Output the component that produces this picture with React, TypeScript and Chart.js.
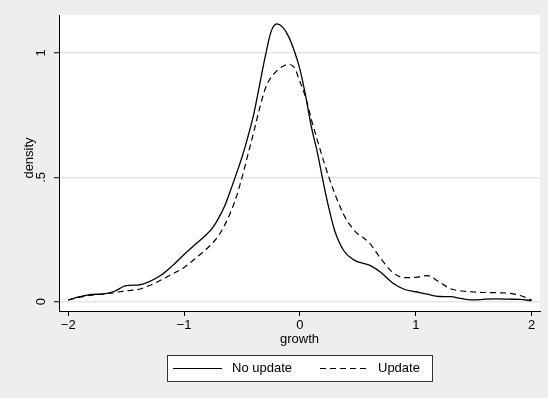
import React, { useEffect, useRef } from "react";
import { Chart, registerables } from "chart.js";

Chart.register(...registerables);

const X_VALUES = [
  -2, -1.9, -1.8, -1.7, -1.6, -1.5, -1.4, -1.3, -1.2, -1.1, -1.0, -0.9, -0.8,
  -0.75, -0.7, -0.65, -0.6, -0.55, -0.5, -0.45, -0.4, -0.35, -0.3, -0.25, -0.2,
  -0.15, -0.1, -0.05, 0, 0.05, 0.1, 0.15, 0.2, 0.25, 0.3, 0.35, 0.4, 0.45, 0.5,
  0.55, 0.6, 0.7, 0.8, 0.9, 1.0, 1.1, 1.2, 1.3, 1.4, 1.5, 1.6, 1.7, 1.8, 1.9, 2.0,
];

const NO_UPDATE = [
  0.007, 0.02, 0.029, 0.031, 0.042, 0.065, 0.067, 0.081, 0.106, 0.145, 0.19, 0.232, 0.273,
  0.3, 0.338, 0.385, 0.447, 0.513, 0.582, 0.662, 0.752, 0.868, 0.985, 1.085, 1.117,
  1.104, 1.068, 1.01, 0.934, 0.825, 0.7, 0.6, 0.483, 0.375, 0.285, 0.228, 0.192, 0.173, 0.16,
  0.154, 0.147, 0.117, 0.075, 0.05, 0.04, 0.03, 0.021, 0.02, 0.012, 0.007, 0.01, 0.011, 0.01, 0.009, 0.004,
];

const UPDATE = [
  0.007, 0.018, 0.026, 0.031, 0.036, 0.044, 0.049, 0.065, 0.087, 0.112, 0.138, 0.175, 0.215,
  0.238, 0.267, 0.308, 0.358, 0.42, 0.5, 0.59, 0.68, 0.775, 0.856, 0.902, 0.928,
  0.946, 0.954, 0.942, 0.885, 0.82, 0.73, 0.65, 0.572, 0.5, 0.435, 0.378, 0.33, 0.298, 0.272,
  0.256, 0.236, 0.172, 0.118, 0.097, 0.098, 0.105, 0.08, 0.052, 0.043, 0.039, 0.037, 0.036, 0.034, 0.025, 0.007,
];

const SERIES_NAMES = ["No update", "Update"];
const X_TICKS = [-2, -1, 0, 1, 2];
const X_TICK_LABELS = ["\u22122", "\u22121", "0", "1", "2"];
const Y_TICKS = [0, 0.5, 1];
const Y_TICK_LABELS = ["0", ".5", "1"];
const X_TITLE = "growth";
const Y_TITLE = "density";

const FONT = "'Liberation Sans', Arial, Helvetica, sans-serif";
const DASH = [6, 4];

export default function App() {
  const ref = useRef<HTMLCanvasElement | null>(null);

  useEffect(() => {
    const canvas = ref.current;
    if (!canvas) return;

    const decor = {
      id: "decor",
      beforeDraw(chart: any) {
        const { ctx, chartArea } = chart;
        ctx.save();
        ctx.fillStyle = "#eeeeee";
        ctx.fillRect(0, 0, chart.width, chart.height);
        ctx.fillStyle = "#ffffff";
        ctx.fillRect(chartArea.left, chartArea.top, chartArea.right - chartArea.left, chartArea.bottom - chartArea.top);
        ctx.restore();
      },
      afterDraw(chart: any) {
        const { ctx, chartArea } = chart;
        const yScale = chart.scales.y;
        ctx.save();
        ctx.fillStyle = "#000";
        ctx.font = `13px ${FONT}`;
        ctx.textAlign = "center";
        ctx.textBaseline = "middle";
        Y_TICKS.forEach((v, i) => {
          const py = yScale.getPixelForValue(v);
          ctx.save();
          ctx.translate(41, py);
          ctx.rotate(-Math.PI / 2);
          ctx.fillText(Y_TICK_LABELS[i], 0, 0);
          ctx.restore();
        });
        ctx.save();
        ctx.translate(29, (chartArea.top + chartArea.bottom) / 2 - 5);
        ctx.rotate(-Math.PI / 2);
        ctx.fillText(Y_TITLE, 0, 0);
        ctx.restore();
        const cx = (chartArea.left + chartArea.right) / 2;
        ctx.fillText(X_TITLE, cx, 339);
        const lx = 167.5, ly = 355.5, lw = 265, lh = 26;
        ctx.fillStyle = "#fff";
        ctx.fillRect(lx, ly, lw, lh);
        ctx.strokeStyle = "#333";
        ctx.lineWidth = 1;
        ctx.strokeRect(lx, ly, lw, lh);
        const my = ly + lh / 2;
        ctx.strokeStyle = "#000";
        ctx.lineWidth = 1.2;
        ctx.beginPath();
        ctx.moveTo(173, my);
        ctx.lineTo(222, my);
        ctx.stroke();
        ctx.setLineDash(DASH);
        ctx.beginPath();
        ctx.moveTo(320, my);
        ctx.lineTo(370, my);
        ctx.stroke();
        ctx.setLineDash([]);
        ctx.fillStyle = "#000";
        ctx.textAlign = "left";
        ctx.fillText(SERIES_NAMES[0], 232, my);
        ctx.fillText(SERIES_NAMES[1], 378, my);
        ctx.restore();
      },
    };

    const chart = new Chart(canvas, {
      type: "line",
      data: {
        datasets: [
          {
            label: SERIES_NAMES[0],
            data: X_VALUES.map((x, i) => ({ x, y: NO_UPDATE[i] })),
            borderColor: "#000",
            borderWidth: 1.3,
            pointRadius: 0,
            fill: false,
            cubicInterpolationMode: "monotone",
          },
          {
            label: SERIES_NAMES[1],
            data: X_VALUES.map((x, i) => ({ x, y: UPDATE[i] })),
            borderColor: "#000",
            borderWidth: 1.2,
            borderDash: DASH,
            pointRadius: 0,
            fill: false,
            cubicInterpolationMode: "monotone",
          },
        ],
      },
      options: {
        animation: false,
        responsive: false,
        devicePixelRatio: 1,
        layout: { padding: { left: 0, top: 15, right: 8, bottom: 0 } },
        plugins: { legend: { display: false }, tooltip: { enabled: false } },
        scales: {
          x: {
            type: "linear",
            min: -2.08,
            max: 2.072,
            afterBuildTicks: (scale: any) => {
              scale.ticks = X_TICKS.map((v) => ({ value: v }));
            },
            afterFit: (scale: any) => {
              scale.height = 87;
            },
            grid: {
              drawOnChartArea: false,
              drawTicks: true,
              tickLength: 5,
              tickColor: "#000",
              tickWidth: 1,
            },
            border: { display: true, color: "#000", width: 1 },
            ticks: {
              padding: 2,
              maxRotation: 0,
              minRotation: 0,
              color: "#000",
              font: { family: FONT, size: 13 },
              callback: (v: any) => {
                const i = X_TICKS.indexOf(Number(v));
                return i >= 0 ? X_TICK_LABELS[i] : "";
              },
            },
          },
          y: {
            type: "linear",
            min: -0.0374,
            max: 1.1528,
            afterBuildTicks: (scale: any) => {
              scale.ticks = Y_TICKS.map((v) => ({ value: v }));
            },
            afterFit: (scale: any) => {
              scale.width = 59;
            },
            grid: {
              drawOnChartArea: true,
              color: "#e6e6e6",
              lineWidth: 1.5,
              drawTicks: true,
              tickLength: 5,
              tickColor: "#000",
              tickWidth: 1,
            },
            border: { display: true, color: "#000", width: 1 },
            ticks: { display: false },
          },
        },
      },
      plugins: [decor],
    } as any);

    return () => chart.destroy();
  }, []);

  return (
    <div style={{ position: "fixed", left: 0, top: 0, width: 548, height: 398, background: "#eeeeee" }}>
      <canvas ref={ref} width={548} height={398} style={{ display: "block", width: 548, height: 398 }} />
    </div>
  );
}
